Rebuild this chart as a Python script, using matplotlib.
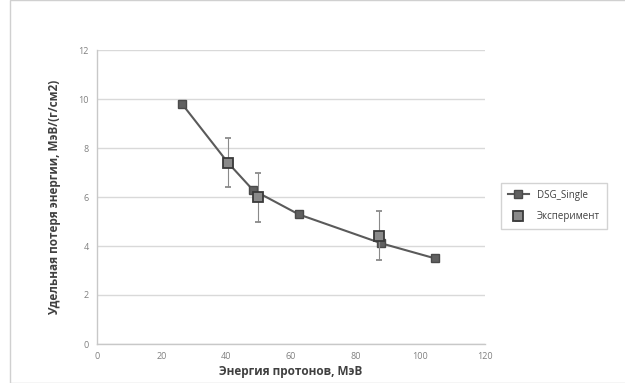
import matplotlib
matplotlib.use('Agg')
from matplotlib import pyplot as plt
from matplotlib.patches import Rectangle

# data
dsg_x = [26.3, 40.5, 48.2, 62.4, 87.9, 104.4]
dsg_y = [9.8, 7.4, 6.29, 5.29, 4.11, 3.5]
exp_x = [40.5, 49.9, 87.3]
exp_y = [7.4, 6.0, 4.42]
exp_err = [1.0, 1.0, 1.0]

x_ticks = [0, 20, 40, 60, 80, 100, 120]
y_ticks = [0, 2, 4, 6, 8, 10, 12]

plt.rcParams['font.family'] = ['Open Sans', 'DejaVu Sans']

fig = plt.figure(figsize=(6.25, 3.83), dpi=100)
fig.patches.append(Rectangle((10 / 625, 0.0), 1.0, 1.0, transform=fig.transFigure,
                             fill=False, edgecolor='#d0d0d0', linewidth=1.0))
ax = fig.add_axes([97 / 625, 1 - 344 / 383, (485 - 97) / 625, (344 - 50) / 383])

ax.plot(dsg_x, dsg_y, color='#5a5a5a', linewidth=1.5, marker='s', markersize=6,
        markerfacecolor='#606060', markeredgecolor='#4a4a4a', label='DSG_Single', zorder=3)
ax.errorbar(exp_x, exp_y, yerr=exp_err, fmt='s', markersize=6.5, markerfacecolor='#8a8a8a',
            markeredgecolor='#3a3a3a', markeredgewidth=1.3, ecolor='#8a8a8a', elinewidth=0.8,
            capsize=2, capthick=0.8, label='Эксперимент', zorder=4)

ax.set_xlim(0, 120)
ax.set_ylim(0, 12)
ax.set_xticks(x_ticks)
ax.set_yticks(y_ticks)
ax.tick_params(labelsize=6.5, colors='#808080', length=0, pad=6)
ax.grid(axis='y', color='#d9d9d9', linewidth=1.0)
ax.set_axisbelow(True)
for side in ['top', 'right']:
    ax.spines[side].set_visible(False)
for side in ['left', 'bottom']:
    ax.spines[side].set_color('#c8c8c8')
    ax.spines[side].set_linewidth(1.0)

ax.set_xlabel('Энергия протонов, МэВ', fontsize=8.5, fontweight='bold', color='#404040', labelpad=3)
ax.set_ylabel('Удельная потеря энергии, МэВ/(г/см2)', fontsize=8.5, fontweight='bold',
              color='#404040', labelpad=12)

handles, labels = ax.get_legend_handles_labels()
leg = fig.legend(handles, labels, loc='center left', bbox_to_anchor=(496 / 625, 1 - 206 / 383),
                 fontsize=7, frameon=True, fancybox=False, edgecolor='#c8c8c8',
                 handlelength=2.2, labelspacing=1.1, borderpad=0.7)
for t in leg.get_texts():
    t.set_color('#404040')

fig.savefig('out.png', dpi=100)
